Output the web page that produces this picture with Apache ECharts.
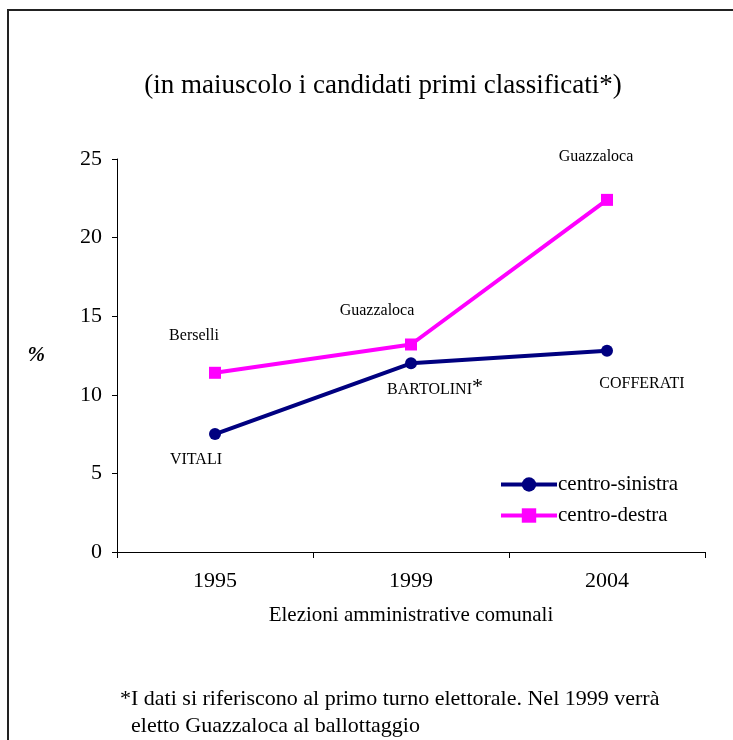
<!DOCTYPE html>
<html>
<head>
<meta charset="utf-8">
<script src="https://cdn.jsdelivr.net/npm/echarts@6/dist/echarts.min.js"></script>
<style>
  html, body { margin: 0; padding: 0; background: #fff; }
  #chart { width: 733px; height: 740px; }
</style>
</head>
<body>
<div id="chart"></div>
<script>
const years = ['1995', '1999', '2004']
const sinistra = [7.5, 12.0, 12.8]
const destra = [11.4, 13.2, 22.4]
const sinistraNames = ['VITALI', 'BARTOLINI', 'COFFERATI']
const destraNames = ['Berselli', 'Guazzaloca', 'Guazzaloca']
const yTicks = [0, 5, 10, 15, 20, 25]

const serif = '"Liberation Serif", "DejaVu Serif", serif'

// label offsets, one per point
const sinistraOffsets = [[-19, 26], [24, 26], [35, 33]]
const destraOffsets = [[-21, -37], [-34, -34], [-11, -43]]

const chart = echarts.init(document.getElementById('chart'))

const option = {
  animation: false,
  backgroundColor: '#fff',
  textStyle: { fontFamily: serif, color: '#000' },
  title: {
    text: '(in maiuscolo i candidati primi classificati*)',
    left: 378,
    top: 67,
    textAlign: 'center',
    textStyle: { fontFamily: serif, fontSize: 27, fontWeight: 'normal', color: '#000' }
  },
  grid: { left: 117, right: 28, top: 159, bottom: 188 },
  legend: {
    left: 494,
    top: 469,
    orient: 'vertical',
    itemGap: 10,
    itemWidth: 56,
    itemHeight: 18,
    lineStyle: { width: 4 },
    textStyle: { fontFamily: serif, fontSize: 21, color: '#000', padding: [0, 0, 0, -4] },
    data: ['centro-sinistra', 'centro-destra']
  },
  xAxis: {
    type: 'category',
    data: years,
    boundaryGap: true,
    name: 'Elezioni amministrative comunali',
    nameLocation: 'middle',
    nameGap: 53,
    nameTextStyle: { fontFamily: serif, fontSize: 21, color: '#000' },
    axisLine: { lineStyle: { color: '#000', width: 1 } },
    axisTick: { show: true, length: 6, alignWithLabel: false, lineStyle: { color: '#000' } },
    axisLabel: { fontFamily: serif, fontSize: 22, color: '#000', margin: 18 }
  },
  yAxis: {
    type: 'value',
    min: 0,
    max: 25,
    interval: 5,
    name: '%',
    nameLocation: 'middle',
    nameRotate: 0,
    nameGap: 72,
    nameTextStyle: { fontFamily: serif, fontSize: 21, fontStyle: 'italic', fontWeight: 'bold', color: '#000' },
    axisLine: { show: true, lineStyle: { color: '#000', width: 1 } },
    axisTick: { show: true, length: 5, lineStyle: { color: '#000' } },
    splitLine: { show: false },
    axisLabel: {
      fontFamily: serif, fontSize: 22, color: '#000', margin: 15,
      formatter: v => yTicks.includes(v) ? String(v) : ''
    }
  },
  series: [
    {
      name: 'centro-sinistra',
      type: 'line',
      data: sinistra,
      color: '#000080',
      symbol: 'circle',
      symbolSize: 12,
      lineStyle: { width: 4, color: '#000080' },
      itemStyle: { color: '#000080' },
      label: {
        show: true,
        position: 'inside',
        fontFamily: serif,
        fontSize: 16,
        color: '#000',
        formatter: p => p.dataIndex === 1 ? '{n|' + sinistraNames[1] + '}{s|*}' : sinistraNames[p.dataIndex],
        rich: {
          n: { fontFamily: serif, fontSize: 16, color: '#000' },
          s: { fontFamily: serif, fontSize: 22, color: '#000', verticalAlign: 'top', padding: [0, 0, 4, 0] }
        }
      },
      labelLayout: p => ({
        dx: sinistraOffsets[p.dataIndex][0],
        dy: sinistraOffsets[p.dataIndex][1]
      })
    },
    {
      name: 'centro-destra',
      type: 'line',
      data: destra,
      color: '#ff00ff',
      symbol: 'rect',
      symbolSize: 12,
      lineStyle: { width: 4, color: '#ff00ff' },
      itemStyle: { color: '#ff00ff' },
      label: {
        show: true,
        position: 'inside',
        fontFamily: serif,
        fontSize: 16,
        color: '#000',
        formatter: p => destraNames[p.dataIndex]
      },
      labelLayout: p => ({
        dx: destraOffsets[p.dataIndex][0],
        dy: destraOffsets[p.dataIndex][1]
      })
    }
  ],
  graphic: [
    {
      type: 'polyline',
      shape: { points: [[8, 740], [8, 10], [733, 10]] },
      style: { stroke: '#222', lineWidth: 2, fill: null }
    },
    {
      type: 'text',
      left: 120,
      top: 686,
      style: {
        text: '*I dati si riferiscono al primo turno elettorale. Nel 1999 verrà\n  eletto Guazzaloca al ballottaggio',
        fontFamily: serif,
        fontSize: 22,
        lineHeight: 27,
        fill: '#000'
      }
    }
  ]
}

chart.setOption(option)
</script>
</body>
</html>
